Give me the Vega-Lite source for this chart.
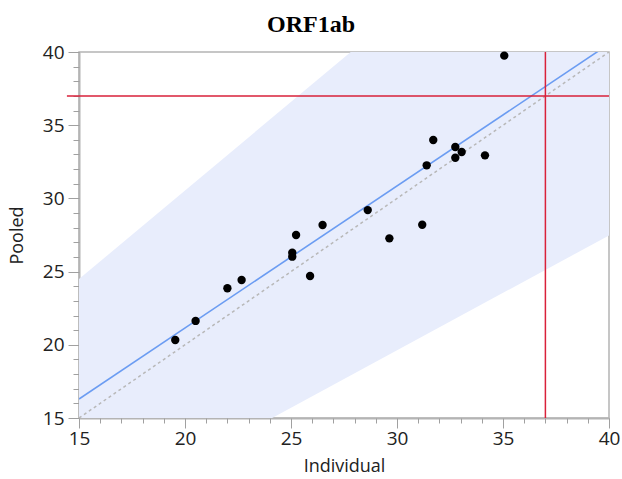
{
  "$schema": "https://vega.github.io/schema/vega-lite/v6.json",
  "autosize": {"type": "none"},
  "padding": {"left": 79, "top": 52, "right": 13, "bottom": 61},
  "width": 530,
  "height": 366,
  "background": "white",
  "title": {
    "text": "ORF1ab",
    "font": "Liberation Serif",
    "fontSize": 24,
    "fontWeight": "bold",
    "color": "#000000",
    "anchor": "middle",
    "frame": "group",
    "dx": -33,
    "baseline": "alphabetic",
    "offset": -13
  },
  "config": {
    "view": {"stroke": "#b4b4b4", "strokeWidth": 1.5},
    "axis": {
      "grid": false,
      "labelFont": "Open Sans",
      "titleFont": "Open Sans",
      "labelColor": "#222222",
      "titleColor": "#222222",
      "tickColor": "#a0a0a0",
      "domainColor": "#b4b4b4",
      "domainWidth": 2,
      "labelFlush": false,
      "labelOverlap": false,
      "titleFontWeight": "normal"
    }
  },
  "datasets": {
    "band": [
      {"x": 15, "lo": 7.85, "hi": 24.49},
      {"x": 40, "lo": 27.47, "hi": 54.74}
    ],
    "fit": [
      {"x": 15, "y": 16.3},
      {"x": 40, "y": 40.55}
    ],
    "identity": [
      {"x": 15, "y": 15},
      {"x": 40, "y": 40}
    ],
    "points": [
      {"Individual": 19.54, "Pooled": 20.33},
      {"Individual": 20.5, "Pooled": 21.63},
      {"Individual": 22.0, "Pooled": 23.86},
      {"Individual": 22.67, "Pooled": 24.43},
      {"Individual": 25.06, "Pooled": 26.29},
      {"Individual": 25.06, "Pooled": 26.02},
      {"Individual": 25.24, "Pooled": 27.5},
      {"Individual": 25.9, "Pooled": 24.7},
      {"Individual": 26.49, "Pooled": 28.18},
      {"Individual": 28.62, "Pooled": 29.2},
      {"Individual": 29.64, "Pooled": 27.27},
      {"Individual": 31.19, "Pooled": 28.2},
      {"Individual": 31.4, "Pooled": 32.26},
      {"Individual": 31.71, "Pooled": 33.99},
      {"Individual": 32.75, "Pooled": 33.51},
      {"Individual": 32.75, "Pooled": 32.78},
      {"Individual": 33.05, "Pooled": 33.17},
      {"Individual": 34.15, "Pooled": 32.94},
      {"Individual": 35.06, "Pooled": 39.75}
    ],
    "hline": [{"x": 14.43, "x2": 40, "y": 37}],
    "vline": [{"x": 37, "y": 15, "y2": 40}]
  },
  "resolve": {"axis": {"x": "independent", "y": "independent"}},
  "layer": [
    {
      "data": {"name": "band"},
      "mark": {"type": "area", "color": "#e8edfc", "clip": true, "opacity": 1},
      "encoding": {
        "x": {
          "field": "x", "type": "quantitative",
          "scale": {"domain": [15, 40], "nice": false, "zero": false},
          "axis": {
            "orient": "bottom",
            "values": [15, 20, 25, 30, 35, 40],
            "tickSize": 10,
            "labelFontSize": 19,
            "labelPadding": 1,
            "title": "Individual",
            "titleFontSize": 18,
            "titlePadding": 9
          }
        },
        "y": {
          "field": "hi", "type": "quantitative",
          "scale": {"domain": [15, 40], "nice": false, "zero": false},
          "axis": {
            "orient": "left",
            "values": [15, 20, 25, 30, 35, 40],
            "tickSize": 11,
            "labelFontSize": 19,
            "labelPadding": 4,
            "title": "Pooled",
            "titleFontSize": 18,
            "titlePadding": 16
          }
        },
        "y2": {"field": "lo"}
      }
    },
    {
      "data": {"name": "identity"},
      "mark": {"type": "line", "color": "#b8b8b8", "strokeDash": [3, 3], "strokeWidth": 1.5, "clip": true},
      "encoding": {
        "x": {
          "field": "x", "type": "quantitative",
          "axis": {
            "orient": "bottom",
            "values": [15,16,17,18,19,20,21,22,23,24,25,26,27,28,29,30,31,32,33,34,35,36,37,38,39,40],
            "tickSize": 5,
            "labels": false,
            "domain": false,
            "title": null
          }
        },
        "y": {
          "field": "y", "type": "quantitative",
          "axis": {
            "orient": "left",
            "values": [15,16,17,18,19,20,21,22,23,24,25,26,27,28,29,30,31,32,33,34,35,36,37,38,39,40],
            "tickSize": 6,
            "labels": false,
            "domain": false,
            "title": null
          }
        }
      }
    },
    {
      "data": {"name": "fit"},
      "mark": {"type": "line", "color": "#6b9cf2", "strokeWidth": 1.6, "clip": true},
      "encoding": {
        "x": {"field": "x", "type": "quantitative", "axis": null},
        "y": {"field": "y", "type": "quantitative", "axis": null}
      }
    },
    {
      "data": {"name": "hline"},
      "mark": {"type": "rule", "color": "#d9213a", "strokeWidth": 1.5},
      "encoding": {
        "x": {"field": "x", "type": "quantitative", "axis": null},
        "x2": {"field": "x2"},
        "y": {"field": "y", "type": "quantitative", "axis": null}
      }
    },
    {
      "data": {"name": "vline"},
      "mark": {"type": "rule", "color": "#d9213a", "strokeWidth": 1.5},
      "encoding": {
        "x": {"field": "x", "type": "quantitative", "axis": null},
        "y": {"field": "y", "type": "quantitative", "axis": null},
        "y2": {"field": "y2"}
      }
    },
    {
      "data": {"name": "points"},
      "mark": {"type": "circle", "color": "#000000", "opacity": 1, "size": 70},
      "encoding": {
        "x": {"field": "Individual", "type": "quantitative", "axis": null},
        "y": {"field": "Pooled", "type": "quantitative", "axis": null}
      }
    }
  ]
}
